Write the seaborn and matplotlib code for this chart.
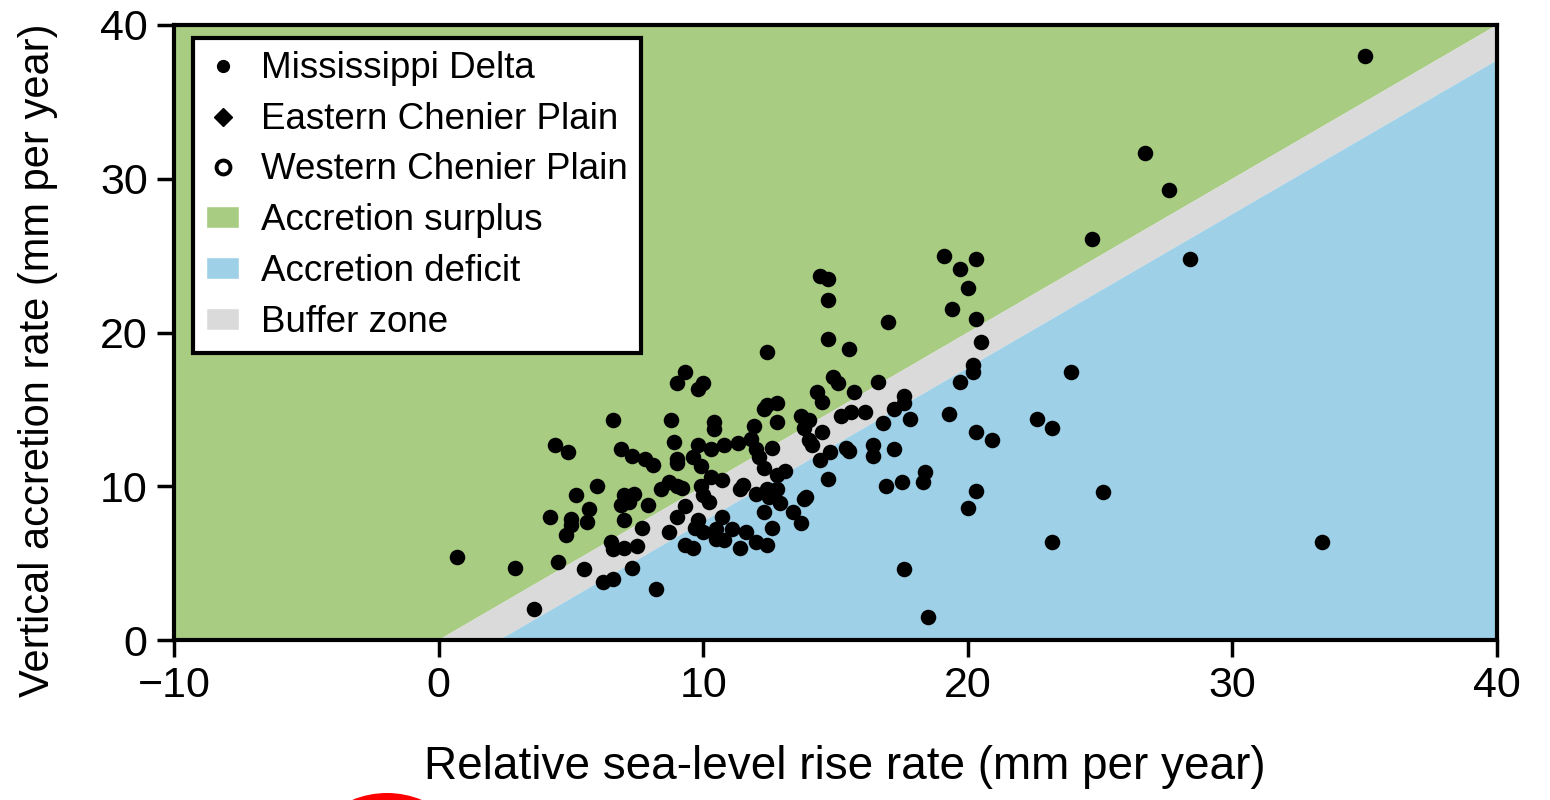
import numpy as np
import matplotlib
matplotlib.use('Agg')
import matplotlib.pyplot as plt
import matplotlib.patches as mpatches
from matplotlib.lines import Line2D
from matplotlib.transforms import IdentityTransform
import seaborn as sns

# Relative sea-level rise rate (mm per year)
rslr = [9.3, 9.0, 10.0, 9.8, 6.6, 8.8, 4.4, 4.9, 8.9, 9.8, 6.9, 7.3, 7.8, 8.1, 9.0, 9.0, 9.6, 9.9,
        6.0, 5.2, 8.4, 8.7, 9.0, 9.2, 7.0, 7.4, 7.2, 6.9, 7.9, 4.2, 5.0, 5.0, 4.8, 5.7, 5.6, 7.0,
        7.7, 9.3, 9.0, 8.7, 6.5, 6.6, 7.0, 7.5, 9.3, 9.6, 0.7, 2.9, 4.5, 5.5, 7.3, 6.2, 6.6, 8.2,
        3.6, 14.7, 15.5, 12.4, 14.9, 15.1, 16.6, 15.7, 14.3, 14.5, 17.6, 17.6, 12.4, 12.8, 12.3,
        10.4, 10.4, 12.8, 11.9, 13.7, 14.0, 13.8, 15.2, 15.6, 16.1, 17.2, 16.8, 17.8, 14.5, 14.0,
        14.1, 10.3, 10.8, 11.3, 11.8, 12.0, 12.1, 12.6, 14.8, 15.4, 15.5, 16.4, 16.4, 17.2, 14.4,
        12.3, 12.8, 13.1, 14.7, 10.3, 10.7, 9.9, 10.0, 10.2, 11.5, 11.4, 12.0, 12.4, 12.8, 12.5,
        12.9, 13.8, 13.9, 12.3, 13.4, 13.7, 10.7, 9.8, 9.7, 10.0, 12.6, 11.1, 11.6, 12.0, 11.4,
        10.5, 10.5, 10.8, 12.4, 16.9, 17.5, 18.4, 18.3, 14.4, 14.7, 14.7, 17.0, 19.1, 20.3, 19.7,
        20.0, 19.4, 20.3, 20.5, 20.2, 20.2, 19.7, 19.3, 22.6, 23.2, 20.3, 20.9, 20.3, 20.0, 23.2,
        17.6, 18.5, 35.0, 26.7, 27.6, 24.7, 28.4, 23.9, 25.1, 33.4]

# Vertical accretion rate (mm per year)
accretion = [17.4, 16.7, 16.7, 16.3, 14.3, 14.3, 12.7, 12.2, 12.9, 12.7, 12.4, 12.0, 11.8, 11.4,
             11.8, 11.5, 11.9, 11.3, 10.0, 9.4, 9.8, 10.3, 10.0, 9.9, 9.4, 9.5, 9.0, 8.8, 8.8,
             8.0, 7.9, 7.5, 6.8, 8.5, 7.7, 7.8, 7.3, 8.7, 8.0, 7.0, 6.4, 5.9, 6.0, 6.1, 6.2, 6.0,
             5.4, 4.7, 5.1, 4.6, 4.7, 3.8, 4.0, 3.3, 2.0, 19.6, 18.9, 18.7, 17.1, 16.7, 16.8, 16.1,
             16.1, 15.5, 15.9, 15.4, 15.3, 15.4, 15.0, 14.2, 13.7, 14.2, 13.9, 14.6, 14.3, 13.8,
             14.6, 14.8, 14.8, 15.0, 14.1, 14.4, 13.5, 13.0, 12.7, 12.4, 12.7, 12.8, 13.1, 12.4,
             11.9, 12.5, 12.2, 12.5, 12.3, 12.7, 12.0, 12.4, 11.7, 11.2, 10.7, 11.0, 10.5, 10.6,
             10.4, 10.0, 9.4, 9.0, 10.1, 9.8, 9.5, 9.8, 9.8, 9.3, 8.9, 9.2, 9.3, 8.3, 8.3, 7.6,
             8.0, 7.8, 7.3, 7.0, 7.3, 7.2, 7.0, 6.4, 6.0, 7.2, 6.6, 6.5, 6.2, 10.0, 10.3, 10.9,
             10.3, 23.7, 23.5, 22.1, 20.7, 25.0, 24.8, 24.1, 22.9, 21.5, 20.9, 19.4, 17.9, 17.4,
             16.8, 14.7, 14.4, 13.8, 13.5, 13.0, 9.7, 8.6, 6.4, 4.6, 1.5, 38.0, 31.7, 29.3, 26.1,
             24.8, 17.4, 9.6, 6.4]

x_ticks = [-10, 0, 10, 20, 30, 40]
y_ticks = [0, 10, 20, 30, 40]
buffer_width = 2.3  # mm per year between surplus and deficit

surplus_color = '#A8CC82'
deficit_color = '#9ED0E8'
buffer_color = '#DADADA'

sns.set_style('ticks')
plt.rcParams['font.family'] = ['Liberation Sans', 'DejaVu Sans']
plt.rcParams['text.color'] = 'black'
plt.rcParams['axes.labelcolor'] = 'black'

fig = plt.figure(figsize=(15.5, 8), dpi=100)
ax = fig.add_axes([0.1123, 0.2, 0.8535, 0.76875])

# background zones
line_x = np.array([-10.0, 40.0])
ax.fill_between(line_x, line_x, 45, color=surplus_color, lw=0, zorder=0)
ax.fill_between(line_x, line_x - buffer_width, line_x, color=buffer_color, lw=0, zorder=0)
ax.fill_between(line_x, -20, line_x - buffer_width, color=deficit_color, lw=0, zorder=0)

sns.scatterplot(x=rslr, y=accretion, color='black', s=125, linewidth=0, ax=ax,
                zorder=3, legend=False)

ax.set_xlim(-10, 40)
ax.set_ylim(0, 40)
ax.set_xticks(x_ticks)
ax.set_yticks(y_ticks)
for spine in ax.spines.values():
    spine.set_visible(True)
    spine.set_linewidth(3)
    spine.set_color('black')
ax.tick_params(direction='out', length=12, width=2.5, labelsize=31, pad=7, colors='black')

ax.set_xlabel('Relative sea-level rise rate (mm per year)', fontsize=33)
ax.xaxis.set_label_coords(0.507, -0.171)
ax.set_ylabel('Vertical accretion rate (mm per year)', fontsize=30)
ax.yaxis.set_label_coords(-0.088, 0.455)

handles = [
    Line2D([], [], marker='o', color='black', linestyle='none', markersize=8.5,
           label='Mississippi Delta'),
    Line2D([], [], marker='D', color='black', linestyle='none', markersize=9,
           label='Eastern Chenier Plain'),
    Line2D([], [], marker='o', markerfacecolor='white', markeredgecolor='black',
           markeredgewidth=2.8, linestyle='none', markersize=10, label='Western Chenier Plain'),
    mpatches.Patch(facecolor=surplus_color, label='Accretion surplus'),
    mpatches.Patch(facecolor=deficit_color, label='Accretion deficit'),
    mpatches.Patch(facecolor=buffer_color, label='Buffer zone'),
]
leg = ax.legend(handles=handles, loc='upper left', bbox_to_anchor=(0.0144, 0.979),
                frameon=True, fancybox=False, edgecolor='black', framealpha=1,
                facecolor='white', fontsize=26.5, labelspacing=0.43, handlelength=0.9,
                handleheight=0.55, handletextpad=0.6, borderpad=0.35, borderaxespad=0)
leg.get_frame().set_linewidth(3)
leg.set_zorder(5)

# red dot at the bottom edge of the original image
fig.add_artist(mpatches.Circle((387, -84), 91, transform=IdentityTransform(),
                               color='red', lw=0))

fig.savefig('out.png', dpi=100)
